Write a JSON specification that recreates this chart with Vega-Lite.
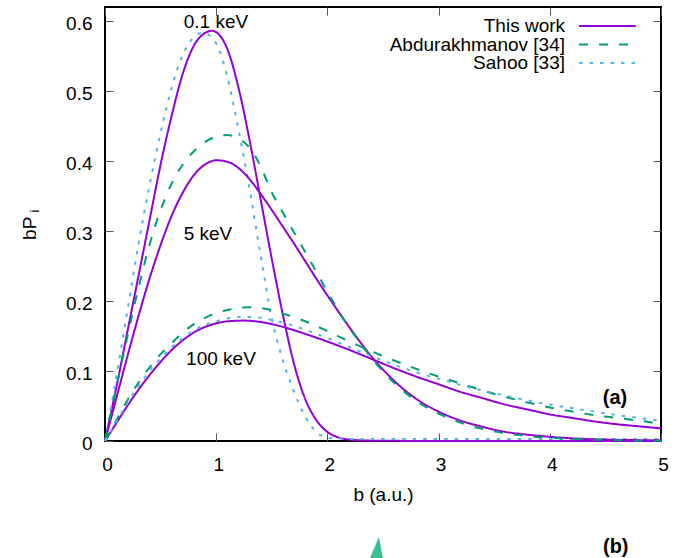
{
"$schema": "https://vega.github.io/schema/vega-lite/v6.json",
"width": 556, "height": 434,
"autosize": {"type": "none"},
"padding": {"left": 105, "top": 7, "right": 24, "bottom": 117},
"background": "white",
"config": {
  "view": {"stroke": "black", "strokeWidth": 2},
  "font": "Liberation Sans",
  "axis": {"grid": false, "domain": false, "tickColor": "#555", "tickWidth": 1, "tickSize": -8,
    "labelFont": "Liberation Sans", "labelFontSize": 19, "labelColor": "black",
    "titleFont": "Liberation Sans", "titleFontSize": 19, "titleFontWeight": "normal", "titleColor": "black"},
  "text": {"font": "Liberation Sans", "color": "black"}
},
"layer": [
{
  "data": {"values": [
{"s":"This work","e":"0.1","b":0,"v":0},{"s":"This work","e":"0.1","b":0.1,"v":0.075},{"s":"This work","e":"0.1","b":0.2,"v":0.155},{"s":"This work","e":"0.1","b":0.3,"v":0.235},{"s":"This work","e":"0.1","b":0.4,"v":0.315},{"s":"This work","e":"0.1","b":0.5,"v":0.395},{"s":"This work","e":"0.1","b":0.6,"v":0.465},{"s":"This work","e":"0.1","b":0.7,"v":0.525},{"s":"This work","e":"0.1","b":0.8,"v":0.565},{"s":"This work","e":"0.1","b":0.9,"v":0.583},{"s":"This work","e":"0.1","b":0.96,"v":0.586},{"s":"This work","e":"0.1","b":1.0,"v":0.584},{"s":"This work","e":"0.1","b":1.1,"v":0.56},{"s":"This work","e":"0.1","b":1.2,"v":0.505},{"s":"This work","e":"0.1","b":1.3,"v":0.43},{"s":"This work","e":"0.1","b":1.4,"v":0.345},{"s":"This work","e":"0.1","b":1.5,"v":0.26},{"s":"This work","e":"0.1","b":1.6,"v":0.18},{"s":"This work","e":"0.1","b":1.7,"v":0.11},{"s":"This work","e":"0.1","b":1.8,"v":0.06},{"s":"This work","e":"0.1","b":1.9,"v":0.03},{"s":"This work","e":"0.1","b":2.0,"v":0.013},{"s":"This work","e":"0.1","b":2.1,"v":0.005},{"s":"This work","e":"0.1","b":2.2,"v":0.002},{"s":"This work","e":"0.1","b":2.4,"v":0.0005},{"s":"This work","e":"0.1","b":3,"v":0},{"s":"This work","e":"0.1","b":4,"v":0},{"s":"This work","e":"0.1","b":5,"v":0},
{"s":"Sahoo [33]","e":"0.1","b":0,"v":0},{"s":"Sahoo [33]","e":"0.1","b":0.1,"v":0.09},{"s":"Sahoo [33]","e":"0.1","b":0.2,"v":0.185},{"s":"Sahoo [33]","e":"0.1","b":0.3,"v":0.28},{"s":"Sahoo [33]","e":"0.1","b":0.4,"v":0.365},{"s":"Sahoo [33]","e":"0.1","b":0.5,"v":0.44},{"s":"Sahoo [33]","e":"0.1","b":0.6,"v":0.505},{"s":"Sahoo [33]","e":"0.1","b":0.7,"v":0.552},{"s":"Sahoo [33]","e":"0.1","b":0.8,"v":0.577},{"s":"Sahoo [33]","e":"0.1","b":0.88,"v":0.583},{"s":"Sahoo [33]","e":"0.1","b":0.95,"v":0.578},{"s":"Sahoo [33]","e":"0.1","b":1.0,"v":0.568},{"s":"Sahoo [33]","e":"0.1","b":1.1,"v":0.52},{"s":"Sahoo [33]","e":"0.1","b":1.2,"v":0.445},{"s":"Sahoo [33]","e":"0.1","b":1.3,"v":0.36},{"s":"Sahoo [33]","e":"0.1","b":1.4,"v":0.265},{"s":"Sahoo [33]","e":"0.1","b":1.5,"v":0.175},{"s":"Sahoo [33]","e":"0.1","b":1.6,"v":0.115},{"s":"Sahoo [33]","e":"0.1","b":1.7,"v":0.07},{"s":"Sahoo [33]","e":"0.1","b":1.8,"v":0.035},{"s":"Sahoo [33]","e":"0.1","b":1.9,"v":0.013},{"s":"Sahoo [33]","e":"0.1","b":2.0,"v":0.005},{"s":"Sahoo [33]","e":"0.1","b":2.2,"v":0.003},{"s":"Sahoo [33]","e":"0.1","b":3,"v":0.003},{"s":"Sahoo [33]","e":"0.1","b":4,"v":0.003},{"s":"Sahoo [33]","e":"0.1","b":5,"v":0.003},
{"s":"This work","e":"5","b":0,"v":0},{"s":"This work","e":"5","b":0.1,"v":0.06},{"s":"This work","e":"5","b":0.2,"v":0.12},{"s":"This work","e":"5","b":0.3,"v":0.178},{"s":"This work","e":"5","b":0.4,"v":0.232},{"s":"This work","e":"5","b":0.5,"v":0.28},{"s":"This work","e":"5","b":0.6,"v":0.322},{"s":"This work","e":"5","b":0.7,"v":0.355},{"s":"This work","e":"5","b":0.8,"v":0.38},{"s":"This work","e":"5","b":0.9,"v":0.395},{"s":"This work","e":"5","b":1.0,"v":0.401},{"s":"This work","e":"5","b":1.1,"v":0.399},{"s":"This work","e":"5","b":1.2,"v":0.39},{"s":"This work","e":"5","b":1.3,"v":0.374},{"s":"This work","e":"5","b":1.4,"v":0.353},{"s":"This work","e":"5","b":1.5,"v":0.33},{"s":"This work","e":"5","b":1.6,"v":0.306},{"s":"This work","e":"5","b":1.7,"v":0.282},{"s":"This work","e":"5","b":1.8,"v":0.257},{"s":"This work","e":"5","b":1.9,"v":0.232},{"s":"This work","e":"5","b":2.0,"v":0.208},{"s":"This work","e":"5","b":2.2,"v":0.162},{"s":"This work","e":"5","b":2.4,"v":0.12},{"s":"This work","e":"5","b":2.6,"v":0.086},{"s":"This work","e":"5","b":2.8,"v":0.06},{"s":"This work","e":"5","b":3.0,"v":0.042},{"s":"This work","e":"5","b":3.2,"v":0.029},{"s":"This work","e":"5","b":3.4,"v":0.02},{"s":"This work","e":"5","b":3.6,"v":0.013},{"s":"This work","e":"5","b":3.8,"v":0.009},{"s":"This work","e":"5","b":4.0,"v":0.006},{"s":"This work","e":"5","b":4.5,"v":0.002},{"s":"This work","e":"5","b":5.0,"v":0.001},
{"s":"Abdurakhmanov [34]","e":"5","b":0,"v":0},{"s":"Abdurakhmanov [34]","e":"5","b":0.1,"v":0.075},{"s":"Abdurakhmanov [34]","e":"5","b":0.2,"v":0.148},{"s":"Abdurakhmanov [34]","e":"5","b":0.3,"v":0.218},{"s":"Abdurakhmanov [34]","e":"5","b":0.4,"v":0.28},{"s":"Abdurakhmanov [34]","e":"5","b":0.5,"v":0.33},{"s":"Abdurakhmanov [34]","e":"5","b":0.6,"v":0.368},{"s":"Abdurakhmanov [34]","e":"5","b":0.7,"v":0.395},{"s":"Abdurakhmanov [34]","e":"5","b":0.8,"v":0.414},{"s":"Abdurakhmanov [34]","e":"5","b":0.9,"v":0.427},{"s":"Abdurakhmanov [34]","e":"5","b":1.0,"v":0.435},{"s":"Abdurakhmanov [34]","e":"5","b":1.1,"v":0.437},{"s":"Abdurakhmanov [34]","e":"5","b":1.2,"v":0.432},{"s":"Abdurakhmanov [34]","e":"5","b":1.3,"v":0.419},{"s":"Abdurakhmanov [34]","e":"5","b":1.4,"v":0.392},{"s":"Abdurakhmanov [34]","e":"5","b":1.5,"v":0.355},{"s":"Abdurakhmanov [34]","e":"5","b":1.6,"v":0.326},{"s":"Abdurakhmanov [34]","e":"5","b":1.7,"v":0.298},{"s":"Abdurakhmanov [34]","e":"5","b":1.8,"v":0.27},{"s":"Abdurakhmanov [34]","e":"5","b":1.9,"v":0.242},{"s":"Abdurakhmanov [34]","e":"5","b":2.0,"v":0.213},{"s":"Abdurakhmanov [34]","e":"5","b":2.1,"v":0.186},{"s":"Abdurakhmanov [34]","e":"5","b":2.2,"v":0.161},{"s":"Abdurakhmanov [34]","e":"5","b":2.3,"v":0.139},{"s":"Abdurakhmanov [34]","e":"5","b":2.4,"v":0.118},{"s":"Abdurakhmanov [34]","e":"5","b":2.6,"v":0.083},{"s":"Abdurakhmanov [34]","e":"5","b":2.8,"v":0.057},{"s":"Abdurakhmanov [34]","e":"5","b":3.0,"v":0.039},{"s":"Abdurakhmanov [34]","e":"5","b":3.2,"v":0.026},{"s":"Abdurakhmanov [34]","e":"5","b":3.4,"v":0.017},{"s":"Abdurakhmanov [34]","e":"5","b":3.6,"v":0.011},{"s":"Abdurakhmanov [34]","e":"5","b":3.8,"v":0.007},{"s":"Abdurakhmanov [34]","e":"5","b":4.0,"v":0.0045},{"s":"Abdurakhmanov [34]","e":"5","b":4.5,"v":0.0015},{"s":"Abdurakhmanov [34]","e":"5","b":5.0,"v":0.0005},
{"s":"This work","e":"100","b":0,"v":0},{"s":"This work","e":"100","b":0.1,"v":0.025},{"s":"This work","e":"100","b":0.2,"v":0.05},{"s":"This work","e":"100","b":0.3,"v":0.073},{"s":"This work","e":"100","b":0.4,"v":0.094},{"s":"This work","e":"100","b":0.5,"v":0.113},{"s":"This work","e":"100","b":0.6,"v":0.13},{"s":"This work","e":"100","b":0.7,"v":0.144},{"s":"This work","e":"100","b":0.8,"v":0.155},{"s":"This work","e":"100","b":0.9,"v":0.163},{"s":"This work","e":"100","b":1.0,"v":0.168},{"s":"This work","e":"100","b":1.1,"v":0.171},{"s":"This work","e":"100","b":1.25,"v":0.172},{"s":"This work","e":"100","b":1.4,"v":0.17},{"s":"This work","e":"100","b":1.6,"v":0.163},{"s":"This work","e":"100","b":1.8,"v":0.153},{"s":"This work","e":"100","b":2.0,"v":0.142},{"s":"This work","e":"100","b":2.2,"v":0.13},{"s":"This work","e":"100","b":2.4,"v":0.117},{"s":"This work","e":"100","b":2.6,"v":0.104},{"s":"This work","e":"100","b":2.8,"v":0.092},{"s":"This work","e":"100","b":3.0,"v":0.081},{"s":"This work","e":"100","b":3.2,"v":0.07},{"s":"This work","e":"100","b":3.4,"v":0.061},{"s":"This work","e":"100","b":3.6,"v":0.052},{"s":"This work","e":"100","b":3.8,"v":0.045},{"s":"This work","e":"100","b":4.0,"v":0.038},{"s":"This work","e":"100","b":4.2,"v":0.033},{"s":"This work","e":"100","b":4.4,"v":0.028},{"s":"This work","e":"100","b":4.6,"v":0.024},{"s":"This work","e":"100","b":4.8,"v":0.021},{"s":"This work","e":"100","b":5.0,"v":0.018},
{"s":"Abdurakhmanov [34]","e":"100","b":0,"v":0},{"s":"Abdurakhmanov [34]","e":"100","b":0.1,"v":0.029},{"s":"Abdurakhmanov [34]","e":"100","b":0.2,"v":0.058},{"s":"Abdurakhmanov [34]","e":"100","b":0.3,"v":0.083},{"s":"Abdurakhmanov [34]","e":"100","b":0.4,"v":0.105},{"s":"Abdurakhmanov [34]","e":"100","b":0.5,"v":0.124},{"s":"Abdurakhmanov [34]","e":"100","b":0.6,"v":0.14},{"s":"Abdurakhmanov [34]","e":"100","b":0.7,"v":0.155},{"s":"Abdurakhmanov [34]","e":"100","b":0.8,"v":0.167},{"s":"Abdurakhmanov [34]","e":"100","b":0.9,"v":0.176},{"s":"Abdurakhmanov [34]","e":"100","b":1.0,"v":0.183},{"s":"Abdurakhmanov [34]","e":"100","b":1.1,"v":0.187},{"s":"Abdurakhmanov [34]","e":"100","b":1.2,"v":0.19},{"s":"Abdurakhmanov [34]","e":"100","b":1.3,"v":0.191},{"s":"Abdurakhmanov [34]","e":"100","b":1.4,"v":0.19},{"s":"Abdurakhmanov [34]","e":"100","b":1.5,"v":0.187},{"s":"Abdurakhmanov [34]","e":"100","b":1.6,"v":0.182},{"s":"Abdurakhmanov [34]","e":"100","b":1.7,"v":0.177},{"s":"Abdurakhmanov [34]","e":"100","b":1.8,"v":0.171},{"s":"Abdurakhmanov [34]","e":"100","b":2.0,"v":0.157},{"s":"Abdurakhmanov [34]","e":"100","b":2.2,"v":0.142},{"s":"Abdurakhmanov [34]","e":"100","b":2.4,"v":0.128},{"s":"Abdurakhmanov [34]","e":"100","b":2.6,"v":0.115},{"s":"Abdurakhmanov [34]","e":"100","b":2.8,"v":0.103},{"s":"Abdurakhmanov [34]","e":"100","b":3.0,"v":0.092},{"s":"Abdurakhmanov [34]","e":"100","b":3.2,"v":0.082},{"s":"Abdurakhmanov [34]","e":"100","b":3.4,"v":0.072},{"s":"Abdurakhmanov [34]","e":"100","b":3.6,"v":0.063},{"s":"Abdurakhmanov [34]","e":"100","b":3.8,"v":0.055},{"s":"Abdurakhmanov [34]","e":"100","b":4.0,"v":0.048},{"s":"Abdurakhmanov [34]","e":"100","b":4.2,"v":0.042},{"s":"Abdurakhmanov [34]","e":"100","b":4.4,"v":0.037},{"s":"Abdurakhmanov [34]","e":"100","b":4.6,"v":0.033},{"s":"Abdurakhmanov [34]","e":"100","b":4.8,"v":0.029},{"s":"Abdurakhmanov [34]","e":"100","b":5.0,"v":0.025},
{"s":"Sahoo [33]","e":"100","b":0,"v":0},{"s":"Sahoo [33]","e":"100","b":0.1,"v":0.027},{"s":"Sahoo [33]","e":"100","b":0.2,"v":0.054},{"s":"Sahoo [33]","e":"100","b":0.3,"v":0.078},{"s":"Sahoo [33]","e":"100","b":0.4,"v":0.1},{"s":"Sahoo [33]","e":"100","b":0.5,"v":0.118},{"s":"Sahoo [33]","e":"100","b":0.6,"v":0.134},{"s":"Sahoo [33]","e":"100","b":0.7,"v":0.147},{"s":"Sahoo [33]","e":"100","b":0.8,"v":0.158},{"s":"Sahoo [33]","e":"100","b":0.9,"v":0.166},{"s":"Sahoo [33]","e":"100","b":1.0,"v":0.171},{"s":"Sahoo [33]","e":"100","b":1.1,"v":0.175},{"s":"Sahoo [33]","e":"100","b":1.2,"v":0.177},{"s":"Sahoo [33]","e":"100","b":1.3,"v":0.177},{"s":"Sahoo [33]","e":"100","b":1.4,"v":0.176},{"s":"Sahoo [33]","e":"100","b":1.5,"v":0.173},{"s":"Sahoo [33]","e":"100","b":1.6,"v":0.169},{"s":"Sahoo [33]","e":"100","b":1.8,"v":0.159},{"s":"Sahoo [33]","e":"100","b":2.0,"v":0.147},{"s":"Sahoo [33]","e":"100","b":2.2,"v":0.134},{"s":"Sahoo [33]","e":"100","b":2.4,"v":0.121},{"s":"Sahoo [33]","e":"100","b":2.6,"v":0.109},{"s":"Sahoo [33]","e":"100","b":2.8,"v":0.098},{"s":"Sahoo [33]","e":"100","b":3.0,"v":0.089},{"s":"Sahoo [33]","e":"100","b":3.2,"v":0.08},{"s":"Sahoo [33]","e":"100","b":3.4,"v":0.072},{"s":"Sahoo [33]","e":"100","b":3.6,"v":0.065},{"s":"Sahoo [33]","e":"100","b":3.8,"v":0.058},{"s":"Sahoo [33]","e":"100","b":4.0,"v":0.052},{"s":"Sahoo [33]","e":"100","b":4.2,"v":0.047},{"s":"Sahoo [33]","e":"100","b":4.4,"v":0.042},{"s":"Sahoo [33]","e":"100","b":4.6,"v":0.037},{"s":"Sahoo [33]","e":"100","b":4.8,"v":0.033},{"s":"Sahoo [33]","e":"100","b":5.0,"v":0.029}
  ]},
  "mark": {"type": "line", "strokeWidth": 2, "interpolate": "monotone"},
  "encoding": {
    "x": {"field": "b", "type": "quantitative", "scale": {"domain": [0, 5], "nice": false, "zero": false},
      "axis": {"orient": "bottom", "values": [0,1,2,3,4,5], "format": "d", "labelPadding": 22.5, "labelOffset": 2, "labelFlush": false, "labelOverlap": false,
        "title": "b (a.u.)", "titleX": 278, "titleY": 59, "titleBaseline": "alphabetic", "titleAlign": "center"}},
    "y": {"field": "v", "type": "quantitative", "scale": {"domain": [0, 0.62], "nice": false},
      "axis": {"orient": "left", "values": [0,0.1,0.2,0.3,0.4,0.5,0.6], "format": "~g", "labelPadding": 21, "labelOffset": 2, "labelOverlap": false,
        "title": "bP", "titleX": -70, "titleY": 220.75, "titleAngle": 270, "titleBaseline": "alphabetic", "titleAlign": "center"}},
    "color": {"field": "s", "type": "nominal", "scale": {"domain": ["This work", "Abdurakhmanov [34]", "Sahoo [33]"], "range": ["#9400d3", "#009e73", "#56b4e9"]}, "legend": null},
    "strokeDash": {"field": "s", "type": "nominal", "scale": {"domain": ["This work", "Abdurakhmanov [34]", "Sahoo [33]"], "range": [[1, 0], [9, 11], [3.5, 7]]}, "legend": null},
    "detail": {"field": "e"}
  }
},
{
  "data": {"values": [{"t": "0.1 keV", "b": 0.998, "v": 0.599}, {"t": "5 keV", "b": 0.926, "v": 0.2963}, {"t": "100 keV", "b": 1.043, "v": 0.1177}]},
  "mark": {"type": "text", "fontSize": 19, "align": "center", "baseline": "middle", "font": "Liberation Sans", "color": "black"},
  "encoding": {
    "x": {"field": "b", "type": "quantitative", "axis": {"orient": "top", "labels": false, "title": null, "values": [0,1,2,3,4,5]}},
    "y": {"field": "v", "type": "quantitative", "axis": {"orient": "right", "labels": false, "title": null, "values": [0,0.1,0.2,0.3,0.4,0.5,0.6]}},
    "text": {"field": "t"}
  }
},
{
  "data": {"values": [{"t": "(a)", "b": 4.586, "v": 0.0617}, {"t": "(b)", "b": 4.593, "v": -0.1514}]},
  "mark": {"type": "text", "fontSize": 20, "fontWeight": "bold", "align": "center", "baseline": "middle", "font": "Liberation Sans", "color": "black"},
  "encoding": {"x": {"field": "b", "type": "quantitative", "axis": null}, "y": {"field": "v", "type": "quantitative", "axis": null}, "text": {"field": "t"}}
},
{
  "data": {"values": [{"t": "i"}]},
  "mark": {"type": "text", "fontSize": 13, "angle": 270, "align": "center", "baseline": "alphabetic", "font": "Liberation Sans", "color": "black"},
  "encoding": {"x": {"datum": -0.594, "type": "quantitative", "axis": null}, "y": {"datum": 0.3286, "type": "quantitative", "axis": null}, "text": {"field": "t"}}
},
{
  "data": {"values": [{"k": "marker"}]},
  "mark": {"type": "point", "shape": "M0,-1L-0.86,1L0.38,1Z", "filled": true, "color": "#3dbd93", "opacity": 1, "size": 1764, "strokeWidth": 0},
  "encoding": {"x": {"datum": 2.464, "type": "quantitative", "axis": null}, "y": {"datum": -0.1671, "type": "quantitative", "axis": null}}
},
{
  "data": {"values": [{"s": "This work"}]},
  "mark": {"type": "rule", "strokeWidth": 2},
  "encoding": {"x": {"datum": 4.263, "type": "quantitative", "axis": null}, "x2": {"datum": 4.773}, "y": {"datum": 0.5929, "type": "quantitative", "axis": null},
    "color": {"field": "s", "type": "nominal", "legend": null}, "strokeDash": {"field": "s", "type": "nominal", "legend": null}}
},
{
  "data": {"values": [{"s": "Abdurakhmanov [34]"}]},
  "mark": {"type": "rule", "strokeWidth": 2},
  "encoding": {"x": {"datum": 4.263, "type": "quantitative", "axis": null}, "x2": {"datum": 4.773}, "y": {"datum": 0.5664, "type": "quantitative", "axis": null},
    "color": {"field": "s", "type": "nominal", "legend": null}, "strokeDash": {"field": "s", "type": "nominal", "legend": null}}
},
{
  "data": {"values": [{"s": "Sahoo [33]"}]},
  "mark": {"type": "rule", "strokeWidth": 2},
  "encoding": {"x": {"datum": 4.263, "type": "quantitative", "axis": null}, "x2": {"datum": 4.773}, "y": {"datum": 0.54, "type": "quantitative", "axis": null},
    "color": {"field": "s", "type": "nominal", "legend": null}, "strokeDash": {"field": "s", "type": "nominal", "legend": null}}
},
{
  "data": {"values": [{"s": "This work"}]},
  "mark": {"type": "text", "fontSize": 19, "align": "right", "baseline": "middle", "font": "Liberation Sans", "color": "black"},
  "encoding": {"x": {"datum": 4.137, "type": "quantitative", "axis": null}, "y": {"datum": 0.5929, "type": "quantitative", "axis": null}, "text": {"field": "s"}}
},
{
  "data": {"values": [{"s": "Abdurakhmanov [34]"}]},
  "mark": {"type": "text", "fontSize": 19, "align": "right", "baseline": "middle", "font": "Liberation Sans", "color": "black"},
  "encoding": {"x": {"datum": 4.137, "type": "quantitative", "axis": null}, "y": {"datum": 0.5664, "type": "quantitative", "axis": null}, "text": {"field": "s"}}
},
{
  "data": {"values": [{"s": "Sahoo [33]"}]},
  "mark": {"type": "text", "fontSize": 19, "align": "right", "baseline": "middle", "font": "Liberation Sans", "color": "black"},
  "encoding": {"x": {"datum": 4.137, "type": "quantitative", "axis": null}, "y": {"datum": 0.54, "type": "quantitative", "axis": null}, "text": {"field": "s"}}
}
]
}
